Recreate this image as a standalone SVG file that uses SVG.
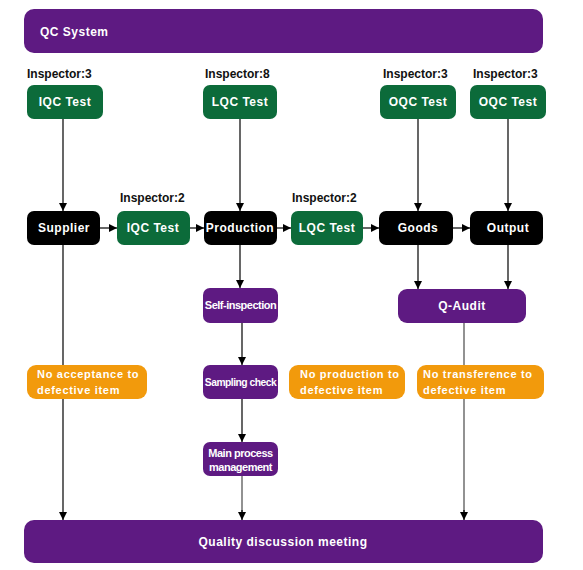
<svg xmlns="http://www.w3.org/2000/svg" width="583" height="570" viewBox="0 0 583 570">
<defs>
<marker id="ah" viewBox="0 0 10 10" refX="10" refY="5" markerWidth="8" markerHeight="8" markerUnits="userSpaceOnUse" orient="auto">
<path d="M0,0 L10,5 L0,10 z" fill="#000"/>
</marker>
</defs>
<style>
text{font-family:"Liberation Sans",Arial,sans-serif;font-weight:bold;}
.t{fill:#fff;font-size:12px;text-anchor:middle;letter-spacing:0.5px;}
.s{fill:#fff;font-size:11px;text-anchor:middle;letter-spacing:-0.5px;}
.o{fill:#fff;font-size:11px;letter-spacing:0.7px;}
.lab{fill:#111;font-size:12px;}
.pur{fill:#5E1A82;}
.grn{fill:#0C6B3A;}
.blk{fill:#000;}
.org{fill:#F29A0C;}
.c{stroke:#000;stroke-width:1.2;fill:none;}
.g{stroke:#777;stroke-width:1.6;fill:none;}
</style>
<rect width="583" height="570" fill="#fff"/>

<g id="connectors">
<line class="c" x1="63" y1="119" x2="63" y2="211" marker-end="url(#ah)"/>
<line class="c" x1="240" y1="119" x2="240" y2="211" marker-end="url(#ah)"/>
<line class="c" x1="418" y1="119" x2="418" y2="211" marker-end="url(#ah)"/>
<line class="c" x1="508" y1="119" x2="508" y2="211" marker-end="url(#ah)"/>
<line class="c" x1="100" y1="228" x2="117" y2="228" marker-end="url(#ah)"/>
<line class="c" x1="190" y1="228" x2="204" y2="228" marker-end="url(#ah)"/>
<line class="c" x1="277" y1="228" x2="291" y2="228" marker-end="url(#ah)"/>
<line class="c" x1="363" y1="228" x2="379" y2="228" marker-end="url(#ah)"/>
<line class="c" x1="453" y1="228" x2="470" y2="228" marker-end="url(#ah)"/>
<line class="c" x1="240" y1="245" x2="240" y2="288" marker-end="url(#ah)"/>
<line class="c" x1="418" y1="245" x2="418" y2="289" marker-end="url(#ah)"/>
<line class="c" x1="508" y1="245" x2="508" y2="289" marker-end="url(#ah)"/>
<line class="c" x1="242" y1="323" x2="242" y2="365" marker-end="url(#ah)"/>
<line class="c" x1="242" y1="399" x2="242" y2="442" marker-end="url(#ah)"/>
<line class="c" x1="63" y1="245" x2="63" y2="520" marker-end="url(#ah)"/>
<line class="g" x1="242" y1="476" x2="242" y2="512"/>
<line class="c" x1="242" y1="510" x2="242" y2="520" marker-end="url(#ah)"/>
<line class="g" x1="464" y1="323" x2="464" y2="512"/>
<line class="c" x1="464" y1="510" x2="464" y2="520" marker-end="url(#ah)"/>
</g>

<g id="qc-system"><rect class="pur" x="24" y="9" width="519" height="44" rx="10"/><text class="t" x="40" y="36" style="text-anchor:start">QC System</text></g>

<g id="iqc-top"><text class="lab" x="27" y="78">Inspector:3</text><rect class="grn" x="27" y="85" width="76" height="34" rx="7"/><text class="t" x="65" y="106">IQC Test</text></g>
<g id="lqc-top"><text class="lab" x="205" y="78">Inspector:8</text><rect class="grn" x="203" y="85" width="74" height="34" rx="7"/><text class="t" x="240" y="106">LQC Test</text></g>
<g id="oqc-1"><text class="lab" x="383" y="78">Inspector:3</text><rect class="grn" x="380" y="85" width="76" height="34" rx="7"/><text class="t" x="418" y="106">OQC Test</text></g>
<g id="oqc-2"><text class="lab" x="473" y="78">Inspector:3</text><rect class="grn" x="470" y="85" width="76" height="34" rx="7"/><text class="t" x="508" y="106">OQC Test</text></g>

<g id="supplier"><rect class="blk" x="27" y="211" width="73" height="34" rx="7"/><text class="t" x="64" y="232">Supplier</text></g>
<g id="iqc-mid"><text class="lab" x="120" y="202">Inspector:2</text><rect class="grn" x="117" y="211" width="73" height="34" rx="7"/><text class="t" x="153" y="232">IQC Test</text></g>
<g id="production"><rect class="blk" x="204" y="211" width="73" height="34" rx="7"/><text class="t" x="240" y="232">Production</text></g>
<g id="lqc-mid"><text class="lab" x="292" y="202">Inspector:2</text><rect class="grn" x="291" y="211" width="72" height="34" rx="7"/><text class="t" x="327" y="232">LQC Test</text></g>
<g id="goods"><rect class="blk" x="379" y="211" width="74" height="34" rx="7"/><text class="t" x="418" y="232">Goods</text></g>
<g id="output"><rect class="blk" x="470" y="211" width="73" height="34" rx="7"/><text class="t" x="508" y="232">Output</text></g>

<g id="self-inspection"><rect class="pur" x="203" y="288" width="75" height="35" rx="7"/><text class="s" x="240.5" y="309">Self-inspection</text></g>
<g id="q-audit"><rect class="pur" x="398" y="289" width="128" height="34" rx="9"/><text class="t" x="462" y="310">Q-Audit</text></g>
<g id="sampling-check"><rect class="pur" x="203" y="365" width="75" height="34" rx="7"/><text class="s" x="240.5" y="386" style="font-size:10.3px">Sampling check</text></g>
<g id="main-process"><rect class="pur" x="203" y="442" width="75" height="34" rx="7"/><text class="s" x="240.5" y="457">Main process</text><text class="s" x="240.5" y="471">management</text></g>

<g id="no-acceptance"><rect class="org" x="27" y="365" width="120" height="34" rx="9"/><text class="o" x="37" y="378">No acceptance to</text><text class="o" x="37" y="394">defective item</text></g>
<g id="no-production"><rect class="org" x="289" y="365" width="116" height="34" rx="9"/><text class="o" x="300" y="378">No production to</text><text class="o" x="300" y="394">defective item</text></g>
<g id="no-transference"><rect class="org" x="417" y="365" width="127" height="34" rx="9"/><text class="o" x="423" y="378">No transference to</text><text class="o" x="423" y="394">defective item</text></g>

<g id="meeting"><rect class="pur" x="24" y="520" width="519" height="43" rx="10"/><text class="t" x="283" y="546">Quality discussion meeting</text></g>
</svg>
